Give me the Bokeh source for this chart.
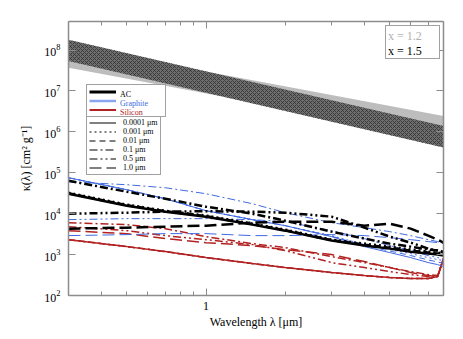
from bokeh.plotting import figure
from bokeh.models import (Range1d, LogAxis, FixedTicker, LogTickFormatter, BasicTickFormatter,
                          Legend, LegendItem)
from bokeh.embed import file_html
from bokeh.resources import INLINE

# wavelength grid [micron]
lam = [0.3, 0.5, 0.7, 1.0, 1.5, 2.0, 3.0, 4.0, 5.0, 6.0, 7.0, 7.6, 8.0]

# amorphous carbon (AC)
ac_00001 = [30800, 15700, 11200, 8470, 5400, 3850, 2200, 1660, 1400, 1180, 1060, 1000, 945]
ac_0001 = [32600, 16600, 11800, 8960, 5710, 4080, 2320, 1855, 1567, 1324, 1183, 1119, 1058]
ac_001 = [31700, 16100, 11500, 8700, 5550, 3960, 2260, 1750, 1480, 1250, 1120, 1060, 1000]
ac_01 = [63900, 34430, 23230, 14820, 10000, 6760, 3640, 2460, 1855, 1567, 1324, 1252, 1183]
ac_05 = [10000, 10580, 11190, 11500, 11200, 10580, 8470, 4560, 2750, 1960, 1401, 1252, 1119]
ac_10 = [4310, 4560, 4825, 5100, 6040, 6390, 6390, 5100, 5710, 4310, 2910, 2320, 1960]

# graphite
gr_00001 = [75700, 38530, 23230, 11830, 7150, 5100, 2750, 1567, 1119, 845, 638, 570, 509]
gr_0001 = [75700, 38530, 23230, 11830, 7150, 5100, 2910, 1754, 1324, 1058, 845, 755, 714]
gr_001 = [75700, 38530, 23230, 11830, 7150, 5100, 2830, 1660, 1220, 950, 740, 660, 610]
gr_01 = [60400, 51040, 43120, 30770, 17540, 10580, 6040, 4560, 3640, 2910, 2320, 2080, 1855]
gr_05 = [7150, 7570, 7570, 7570, 7150, 6390, 3850, 2460, 1658, 1252, 945, 845, 755]
gr_10 = [2910, 3080, 3255, 3255, 2910, 2910, 3080, 2910, 2600, 2320, 2080, 1960, 1855]

# silicon
si_00001 = [2320, 1567, 1183, 845, 603, 482, 364, 307, 275, 260, 260, 291, 798]
si_0001 = [2320, 1567, 1183, 845, 603, 482, 364, 307, 275, 260, 260, 291, 798]
si_001 = [2320, 1567, 1183, 845, 603, 482, 364, 307, 275, 260, 260, 291, 798]
si_01 = [6040, 5400, 4310, 2750, 1855, 1482, 894, 638, 482, 385, 325, 307, 798]
si_05 = [4825, 3850, 2910, 2320, 1754, 1252, 638, 482, 385, 325, 291, 291, 798]
si_10 = [3850, 3255, 2460, 1960, 1658, 1324, 1000, 675, 482, 364, 307, 291, 798]

size_labels = ["0.0001 \u03bcm", "0.001 \u03bcm", "0.01 \u03bcm", "0.1 \u03bcm", "0.5 \u03bcm", "1.0 \u03bcm"]
size_dashes = ["solid", "2 3", "6 4", "8 3 2 3", "8 3 2 3 2 3", "12 5"]

# power-law bands (kappa edges at the ends of the range)
band_lam = [0.3, 8.0]
band12_lo = [3.7e7, 7.2e5]
band12_hi = [1.27e8, 2.45e6]
band15_lo = [5.4e7, 4.15e5]
band15_hi = [1.8e8, 1.4e6]

FONT = "Liberation Serif"
AXC = "#8c8c8c"
NB = "\u00a0"

p = figure(width=455, height=331, x_axis_type="log", y_axis_type="log",
           x_range=Range1d(0.3, 8.0), y_range=Range1d(100, 5e8),
           output_backend="svg", toolbar_location=None,
           min_border_left=68, min_border_right=12, min_border_top=21, min_border_bottom=36)
p.grid.visible = False
p.outline_line_color = None

bottom = p.below[0]
left = p.left[0]

xt = FixedTicker(ticks=[1.0], minor_ticks=[0.3, 0.4, 0.5, 0.6, 0.7, 0.8, 0.9, 2, 3, 4, 5, 6, 7, 8])
yt = FixedTicker(ticks=[1e2, 1e3, 1e4, 1e5, 1e6, 1e7, 1e8], minor_ticks=[])

bottom.ticker = xt
bottom.formatter = BasicTickFormatter()
left.ticker = yt
left.formatter = LogTickFormatter()

top = LogAxis(ticker=xt, formatter=BasicTickFormatter())
right = LogAxis(ticker=yt, formatter=BasicTickFormatter())
p.add_layout(top, "above")
p.add_layout(right, "right")

for ax in [bottom, left, top, right]:
    ax.axis_line_color = AXC
    ax.axis_line_width = 1.5
    ax.major_tick_line_color = AXC
    ax.minor_tick_line_color = AXC
    ax.major_tick_in = 7
    ax.major_tick_out = 0
    ax.minor_tick_in = 4
    ax.minor_tick_out = 0
    ax.major_label_text_font = FONT
    ax.major_label_text_color = "black"
    ax.axis_label_text_font = FONT
    ax.axis_label_text_font_style = "normal"
    ax.axis_label_text_color = "black"
    ax.axis_label_text_font_size = "12px"
for ax in [top, right]:
    ax.major_label_standoff = 0
    ax.major_label_text_font_size = "1px"
    ax.major_label_text_color = None

bottom.major_label_text_font_size = "12px"
left.major_label_text_font_size = "12px"
bottom.major_label_standoff = 6
left.major_label_standoff = 8
bottom.axis_label = "Wavelength \u03bb [\u03bcm]"
left.axis_label = "\u03ba(\u03bb) [cm\u00b2 g\u207b\u00b9]"
bottom.axis_label_standoff = 2
left.axis_label_standoff = 8

# bands
p.varea(x=band_lam, y1=band12_lo, y2=band12_hi, fill_color="#bdbdbd")
p.varea(x=band_lam, y1=band15_lo, y2=band15_hi, fill_color="#6e6e6e",
        hatch_pattern="diagonal_cross", hatch_scale=4, hatch_weight=0.7, hatch_color="#2a2a2a")

materials = [
    ([si_00001, si_0001, si_001, si_01, si_05, si_10], "#b22222", 1.5),
    ([gr_00001, gr_0001, gr_001, gr_01, gr_05, gr_10], "#4169e1", 1.0),
    ([ac_00001, ac_0001, ac_001, ac_01, ac_05, ac_10], "black", 2.5),
]
for series, col, lw in materials:
    for ys, dash in zip(series, size_dashes):
        p.line(lam, ys, line_color=col, line_width=lw, line_dash=dash)

# dummy renderers for legends
r_ac = p.line([1.0], [1.0], line_color="black", line_width=3)
r_gr = p.line([1.0], [1.0], line_color="#8aa6f2", line_width=2.5)
r_si = p.line([1.0], [1.0], line_color="#b22222", line_width=2)
r_none = p.line([1.0], [1.0], line_alpha=0)
r_sizes = [p.line([1.0], [1.0], line_color="black", line_width=1, line_dash=d) for d in size_dashes]


def mk_legend(items, loc, color, border, size="8px", gw=27, h=9, pad=2, standoff=7):
    return Legend(items=items, location=loc, label_text_font=FONT, label_text_font_size=size,
                  label_text_color=color, glyph_width=gw, glyph_height=h, label_height=h,
                  label_standoff=standoff, spacing=0, padding=pad, margin=0,
                  border_line_color="#444444" if border else None, border_line_width=1,
                  background_fill_color="white", background_fill_alpha=1 if border else 0)

# size legend (bottom box)
s = mk_legend([LegendItem(label=lab, renderers=[r]) for lab, r in zip(size_labels, r_sizes)],
              (18, 120), "black", True)

# material legend (top box) + coloured label overlays at the same anchor
mloc = (18, 178)
wide = NB * 20
m1 = mk_legend([LegendItem(label=wide, renderers=[r_ac]),
                LegendItem(label=wide, renderers=[r_gr]),
                LegendItem(label=wide, renderers=[r_si])], mloc, "black", True)
m_ac = mk_legend([LegendItem(label="AC", renderers=[r_none]),
                  LegendItem(label=NB, renderers=[r_none]),
                  LegendItem(label=NB, renderers=[r_none])], mloc, "black", False)
m_gr = mk_legend([LegendItem(label="Graphite", renderers=[r_none]),
                  LegendItem(label=NB, renderers=[r_none])], mloc, "#4169e1", False)
m_si = mk_legend([LegendItem(label="Silicon", renderers=[r_none])], mloc, "#b22222", False)

# exponent legend (top right)
xloc = (317, 236)
xwide = NB * 16
x_box = mk_legend([LegendItem(label=xwide, renderers=[r_none]),
                   LegendItem(label=xwide, renderers=[r_none])], xloc, "black", True,
                  size="12px", gw=1, h=13, pad=1, standoff=2)
x_a = mk_legend([LegendItem(label="x = 1.2", renderers=[r_none]),
                 LegendItem(label=NB, renderers=[r_none])], xloc, "#b0b0b0", False,
                size="12px", gw=1, h=13, pad=1, standoff=2)
x_b = mk_legend([LegendItem(label="x = 1.5", renderers=[r_none])], xloc, "black", False,
                size="12px", gw=1, h=13, pad=1, standoff=2)

for lg in [s, m1, m_ac, m_gr, m_si, x_box, x_a, x_b]:
    p.add_layout(lg)

open("out.html", "w").write(file_html(p, INLINE))
